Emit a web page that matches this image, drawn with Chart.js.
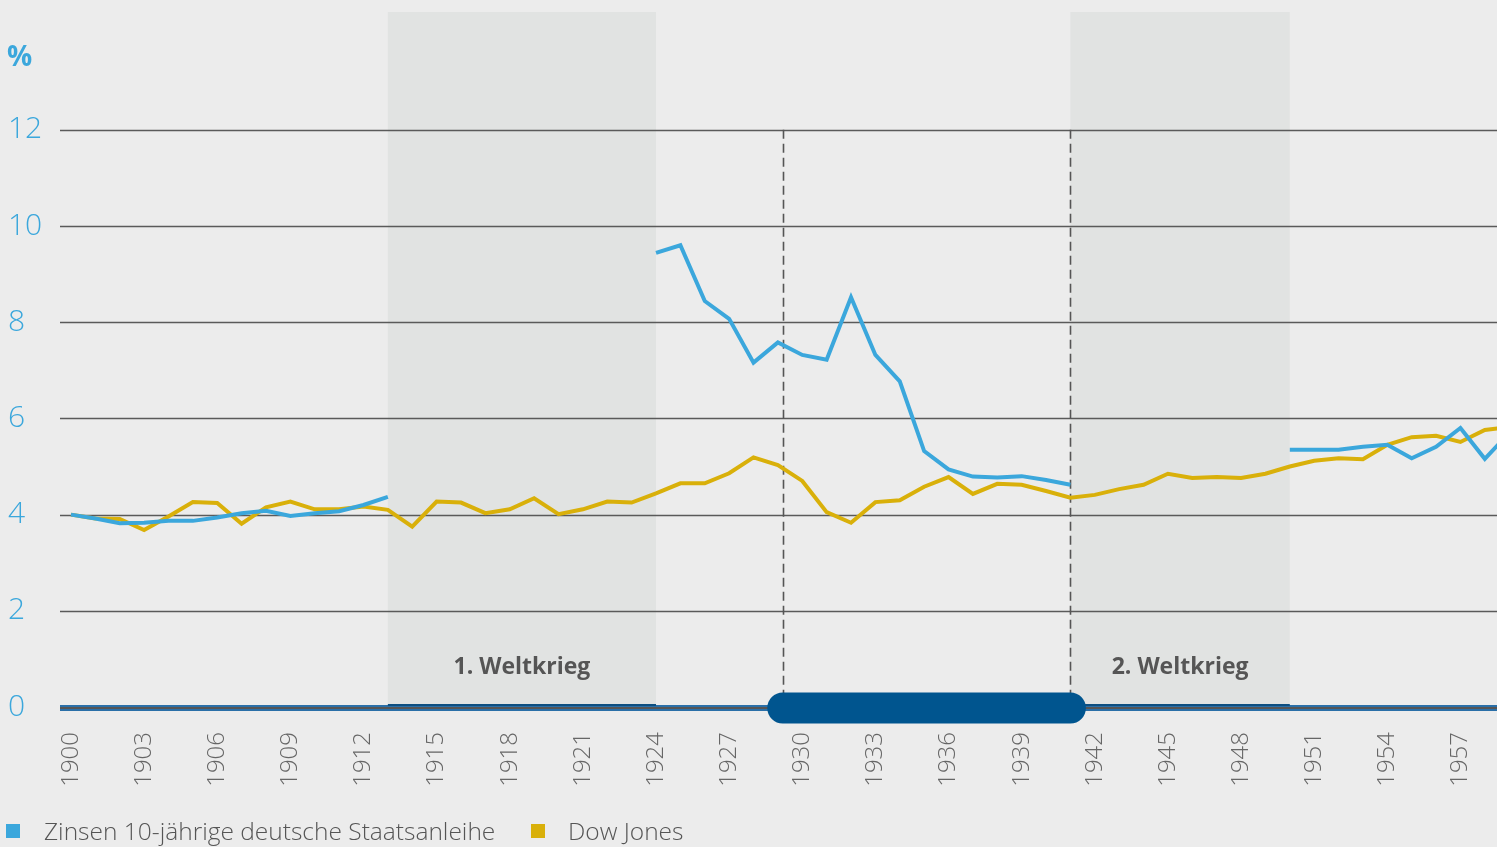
<!DOCTYPE html>
<html>
<head>
<meta charset="utf-8">
<script src="https://cdn.jsdelivr.net/npm/chart.js@4"></script>
<style>
  html, body { margin: 0; padding: 0; background: #ececec; overflow: hidden; }
  #wrap { position: relative; width: 1497px; height: 847px; }
  .legend { position: absolute; top: 814px; left: 0; font-family: "Open Sans", sans-serif; font-weight: 300; font-size: 24.5px; color: #555; white-space: nowrap; }
  .legend span.box { position: absolute; top: 10px; width: 14px; height: 14px; }
  .legend span.txt { position: absolute; top: 0; }
</style>
</head>
<body>
<div id="wrap">
  <canvas id="chart" width="1497" height="847"></canvas>
  <div class="legend">
    <span class="box" style="left:6px;background:#3ba7dc"></span>
    <span class="txt" style="left:44px">Zinsen 10-jährige deutsche Staatsanleihe</span>
    <span class="box" style="left:531px;background:#d9b00a"></span>
    <span class="txt" style="left:568px">Dow Jones</span>
  </div>
</div>
<script>
// years on the x axis
const years = [];
for (let y = 1900; y <= 1959; y++) years.push(y);
const tickYears = [1900, 1903, 1906, 1909, 1912, 1915, 1918, 1921, 1924, 1927, 1930, 1933, 1936, 1939, 1942, 1945, 1948, 1951, 1954, 1957];
const yTicks = [0, 2, 4, 6, 8, 10, 12];

// Zinsen 10-jährige deutsche Staatsanleihe (null = keine Daten)
const bundValues = [
  4.00, 3.92, 3.82, 3.83, 3.87, 3.87, 3.94, 4.03, 4.08, 3.97,
  4.03, 4.07, 4.20, 4.37, null, null, null, null, null, null,
  null, null, null, null, 9.44, 9.60, 8.44, 8.07, 7.16, 7.58,
  7.32, 7.22, 8.52, 7.32, 6.77, 5.32, 4.94, 4.79, 4.77, 4.80,
  4.72, 4.62, null, null, null, null, null, null, null, null,
  5.35, 5.35, 5.35, 5.41, 5.45, 5.17, 5.41, 5.80, 5.16, 5.70
];

// Dow Jones
const dowValues = [
  4.00, 3.92, 3.91, 3.68, 3.96, 4.26, 4.24, 3.81, 4.15, 4.27,
  4.11, 4.11, 4.17, 4.10, 3.75, 4.27, 4.25, 4.03, 4.11, 4.34,
  4.01, 4.11, 4.27, 4.25, 4.44, 4.65, 4.65, 4.86, 5.19, 5.03,
  4.70, 4.05, 3.83, 4.26, 4.30, 4.58, 4.78, 4.43, 4.64, 4.62,
  4.49, 4.35, 4.41, 4.53, 4.62, 4.85, 4.76, 4.78, 4.76, 4.85,
  5.00, 5.12, 5.17, 5.15, 5.45, 5.61, 5.64, 5.51, 5.76, 5.82
];

const wars = [
  { label: "1. Weltkrieg", from: 1913, to: 1924 },
  { label: "2. Weltkrieg", from: 1941, to: 1950 }
];
const crisis = { from: 1929.2, to: 1941 };

const FONT = '"Open Sans", sans-serif';

const decor = {
  id: "decor",
  beforeDatasetsDraw(chart) {
    const { ctx, chartArea: a, scales: { x, y } } = chart;
    ctx.save();
    // war bands
    wars.forEach(w => {
      const x0 = x.getPixelForValue(w.from), x1 = x.getPixelForValue(w.to);
      ctx.fillStyle = "#e1e3e2";
      ctx.fillRect(x0, a.top, x1 - x0, y.getPixelForValue(0) - a.top);
    });
    // grid lines
    ctx.strokeStyle = "#5a5a5a";
    ctx.lineWidth = 1.6;
    yTicks.slice(1).forEach(v => {
      const py = Math.round(y.getPixelForValue(v)) + 0.5;
      ctx.beginPath(); ctx.moveTo(a.left, py); ctx.lineTo(a.right, py); ctx.stroke();
    });
    // war labels
    ctx.fillStyle = "#555";
    ctx.font = "bold 23px " + FONT;
    ctx.textAlign = "center";
    ctx.textBaseline = "middle";
    wars.forEach(w => {
      const cx = (x.getPixelForValue(w.from) + x.getPixelForValue(w.to)) / 2;
      ctx.fillText(w.label, cx, 667);
    });
    // dashed crisis lines
    ctx.setLineDash([9, 5]);
    ctx.lineWidth = 1.6;
    ctx.strokeStyle = "#555";
    [crisis.from, crisis.to].forEach(v => {
      const px = Math.round(x.getPixelForValue(v)) + 0.5;
      ctx.beginPath(); ctx.moveTo(px, y.getPixelForValue(12)); ctx.lineTo(px, y.getPixelForValue(0)); ctx.stroke();
    });
    ctx.setLineDash([]);
    // zero axis
    const y0 = y.getPixelForValue(0);
    ctx.fillStyle = "#2a6fa8";
    ctx.fillRect(a.left, y0 - 2, a.right - a.left, 6);
    ctx.fillStyle = "#0d4e80";
    wars.forEach(w => {
      const x0 = x.getPixelForValue(w.from), x1 = x.getPixelForValue(w.to);
      ctx.fillRect(x0, y0 - 3, x1 - x0, 2);
    });
    ctx.fillStyle = "#555";
    ctx.fillRect(a.left, y0, a.right - a.left, 2);
    ctx.restore();
  },
  afterDatasetsDraw(chart) {
    const { ctx, scales: { x, y } } = chart;
    const y0 = y.getPixelForValue(0) + 1;
    ctx.save();
    ctx.strokeStyle = "#00558f";
    ctx.lineWidth = 31;
    ctx.lineCap = "round";
    ctx.beginPath();
    ctx.moveTo(x.getPixelForValue(crisis.from), y0);
    ctx.lineTo(x.getPixelForValue(crisis.to), y0);
    ctx.stroke();
    // unit label
    ctx.fillStyle = "#3ba7dc";
    ctx.font = "bold 28px " + FONT;
    ctx.textAlign = "left";
    ctx.textBaseline = "alphabetic";
    ctx.fillText("%", 7, 66);
    ctx.restore();
  }
};

new Chart(document.getElementById("chart"), {
  type: "line",
  data: {
    datasets: [
      {
        label: "Zinsen 10-jährige deutsche Staatsanleihe",
        data: years.map((yr, i) => ({ x: yr, y: bundValues[i] })),
        borderColor: "#3ba7dc",
        borderWidth: 4,
        pointRadius: 0,
        spanGaps: false,
        tension: 0
      },
      {
        label: "Dow Jones",
        data: years.map((yr, i) => ({ x: yr, y: dowValues[i] })),
        borderColor: "#d9b00a",
        borderWidth: 4,
        pointRadius: 0,
        tension: 0
      }
    ]
  },
  options: {
    responsive: false,
    animation: false,
    layout: { padding: { top: 12, right: 0, left: 8, bottom: 0 } },
    plugins: { legend: { display: false }, tooltip: { enabled: false } },
    scales: {
      x: {
        type: "linear",
        min: 1899.55,
        max: 1958.5,
        grid: { display: false, drawTicks: false },
        border: { display: false },
        afterBuildTicks: s => { s.ticks = tickYears.map(v => ({ value: v })); },
        afterFit: s => { s.height = 140; s.paddingLeft = 0; s.paddingRight = 0; },
        ticks: {
          minRotation: 90,
          maxRotation: 90,
          padding: 25,
          color: "#666",
          font: { family: FONT, size: 24, weight: 300 },
          callback: v => String(v)
        }
      },
      y: {
        min: 0,
        max: 14.45,
        grid: { display: false, drawTicks: false },
        border: { display: false },
        afterBuildTicks: s => { s.ticks = yTicks.map(v => ({ value: v })); },
        afterFit: s => { s.width = 52; s.paddingTop = 0; s.paddingBottom = 0; },
        ticks: {
          crossAlign: "far",
          padding: 0,
          color: "#3ba7dc",
          font: { family: FONT, size: 30, weight: 300, lineHeight: 1.0 }
        }
      }
    }
  },
  plugins: [decor]
});
</script>
</body>
</html>
